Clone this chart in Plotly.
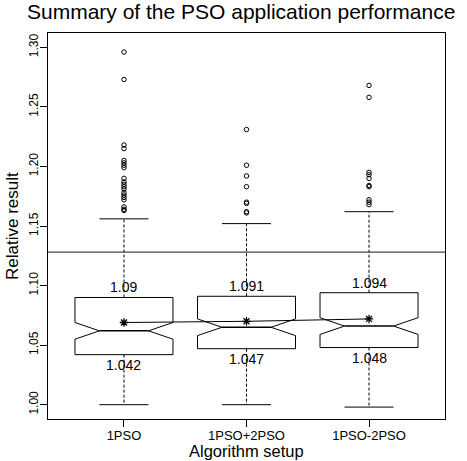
import plotly.graph_objects as go

# Summary statistics per algorithm setup
setups = ["1PSO", "1PSO+2PSO", "1PSO-2PSO"]
q1 = [1.042, 1.047, 1.048]
median = [1.062, 1.065, 1.066]
q3 = [1.090, 1.091, 1.094]
lower_whisker = [1.000, 1.000, 0.998]
upper_whisker = [1.156, 1.152, 1.162]
notch_half = [0.007, 0.007, 0.007]
means = [1.069, 1.070, 1.072]
outliers = [
    [1.296, 1.273, 1.218, 1.215, 1.205, 1.203, 1.201, 1.199, 1.190, 1.187,
     1.185, 1.183, 1.181, 1.178, 1.176, 1.174, 1.172, 1.166, 1.164, 1.163],
    [1.231, 1.201, 1.192, 1.183, 1.170, 1.169, 1.162, 1.161],
    [1.268, 1.258, 1.195, 1.193, 1.190, 1.184, 1.183, 1.172, 1.170, 1.168],
]
reference_level = 1.128
y_ticks = [1.00, 1.05, 1.10, 1.15, 1.20, 1.25, 1.30]

FONT = "Liberation Sans, Arial, sans-serif"
BOX_HALF = 0.4
CAP_HALF = 0.2

fig = go.Figure()

for i, name in enumerate(setups):
    x = i + 1
    lo, hi, md, n = q1[i], q3[i], median[i], notch_half[i]
    inset = BOX_HALF / 2
    # notched box outline
    bx = [x - BOX_HALF, x - BOX_HALF, x - inset, x - BOX_HALF, x - BOX_HALF,
          x + BOX_HALF, x + BOX_HALF, x + inset, x + BOX_HALF, x + BOX_HALF,
          x - BOX_HALF]
    by = [lo, md - n, md, md + n, hi, hi, md + n, md, md - n, lo, lo]
    fig.add_trace(go.Scatter(x=bx, y=by, mode="lines",
                             line=dict(color="black", width=1),
                             hoverinfo="skip", showlegend=False))
    # median
    fig.add_trace(go.Scatter(x=[x - inset, x + inset], y=[md, md], mode="lines",
                             line=dict(color="black", width=1.5),
                             hoverinfo="skip", showlegend=False))
    # dashed whiskers
    for a, b in ((hi, upper_whisker[i]), (lo, lower_whisker[i])):
        fig.add_trace(go.Scatter(x=[x, x], y=[a, b], mode="lines",
                                 line=dict(color="black", width=1, dash="3px,2px"),
                                 hoverinfo="skip", showlegend=False))
    # whisker caps
    for w in (upper_whisker[i], lower_whisker[i]):
        fig.add_trace(go.Scatter(x=[x - CAP_HALF, x + CAP_HALF], y=[w, w], mode="lines",
                                 line=dict(color="black", width=1),
                                 hoverinfo="skip", showlegend=False))
    # outliers
    fig.add_trace(go.Scatter(x=[x] * len(outliers[i]), y=outliers[i], mode="markers",
                             marker=dict(symbol="circle-open", size=4.5,
                                         color="black", line=dict(width=1)),
                             hoverinfo="skip", showlegend=False))
    # quartile labels
    fig.add_annotation(x=x, y=hi, text=f"{hi:g}", showarrow=False,
                       yanchor="bottom", yshift=0,
                       font=dict(family=FONT, size=14, color="black"))
    fig.add_annotation(x=x, y=lo, text=f"{lo:g}", showarrow=False,
                       yanchor="top", yshift=0,
                       font=dict(family=FONT, size=14, color="black"))

# means joined by a line
fig.add_trace(go.Scatter(x=[1, 2, 3], y=means, mode="lines+markers",
                         line=dict(color="black", width=1),
                         marker=dict(symbol="asterisk-open", size=7, color="black",
                                     line=dict(width=1.3, color="black")),
                         hoverinfo="skip", showlegend=False))

fig.add_shape(type="line", xref="paper", x0=0, x1=1, y0=reference_level, y1=reference_level,
              line=dict(color="#444444", width=1.2))

fig.add_annotation(xref="paper", yref="paper", x=0.485, y=1, yshift=8, yanchor="bottom",
                   text="Summary of the PSO application performance", showarrow=False,
                   font=dict(family=FONT, size=21, color="black"))
fig.add_annotation(xref="paper", yref="paper", x=0.5, y=0, yshift=-32, yanchor="middle",
                   text="Algorithm setup", showarrow=False, borderpad=0,
                   font=dict(family=FONT, size=16.5, color="black"))
fig.add_annotation(xref="paper", yref="paper", x=0, xshift=-36, y=0.5, xanchor="center",
                   text="Relative result", textangle=-90, showarrow=False,
                   font=dict(family=FONT, size=17, color="black"))

fig.update_layout(
    width=467, height=461,
    margin=dict(l=48, r=22, t=33, b=42),
    paper_bgcolor="white", plot_bgcolor="white",
    font=dict(family=FONT, color="black"),
    xaxis=dict(range=[0.38, 3.62], tickvals=[1, 2, 3], ticktext=setups,
               ticks="outside", ticklen=7, tickcolor="black",
               showgrid=False, zeroline=False, showline=True, mirror=True,
               linecolor="black", linewidth=1, tickfont=dict(size=13),
               ticklabelstandoff=-3),
    yaxis=dict(range=[0.988, 1.312], tickvals=y_ticks,
               ticktext=[f"{v:.2f}" for v in y_ticks], tickangle=-90,
               ticks="outside", ticklen=7, tickcolor="black",
               showgrid=False, zeroline=False, showline=True, mirror=True,
               linecolor="black", linewidth=1, tickfont=dict(size=12),
               ticklabelstandoff=-3),
)

fig.write_html("out.html")
